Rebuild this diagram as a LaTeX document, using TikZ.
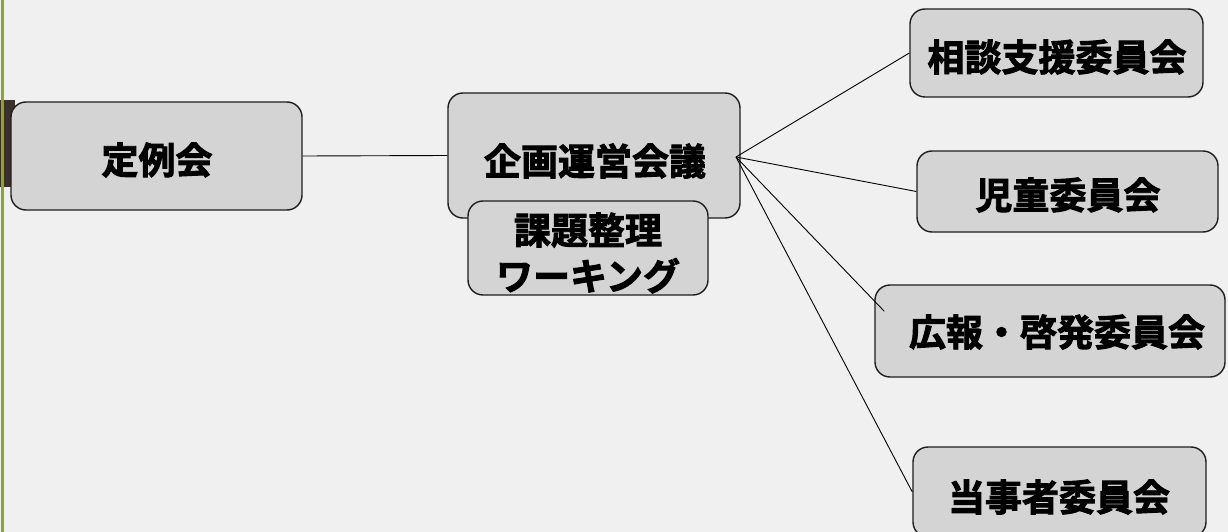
\documentclass[tikz,border=0pt]{standalone}
\usepackage{fontspec}
\newfontfamily\jpfont{Noto Sans CJK JP}[BoldFont={Noto Sans CJK JP Bold}, BoldFeatures={FakeBold=2.5}]
\usetikzlibrary{calc}
\definecolor{bgc}{HTML}{F0F0F0}
\definecolor{boxc}{HTML}{D4D4D4}
\definecolor{edgec}{HTML}{1E1E1E}
\definecolor{greenc}{HTML}{8AA62E}
\definecolor{brownc}{HTML}{3B3128}
\tikzset{
  box/.style={draw=edgec, line width=1.4pt, fill=boxc, rounded corners=15pt, inner sep=0pt},
  lbl/.style={font=\jpfont\bfseries\fontsize{37}{46}\selectfont, text=black, inner sep=0pt, align=center},
  link/.style={draw=black, line width=0.9pt}
}
\begin{document}
\begin{tikzpicture}[x=1pt,y=-1pt]
\useasboundingbox (0,0) rectangle (1228,532);
\clip (0,0) rectangle (1228,532);
\fill[bgc] (0,0) rectangle (1228,532);
\fill[brownc] (0,100) rectangle (15,187);
\fill[greenc] (1,0) rectangle (3.5,532);
% boxes
\node[box, minimum width=291pt, minimum height=108pt] (teirei) at (156.5,156) {};
\node[box, minimum width=292pt, minimum height=125pt] (kikaku) at (594,155.5) {};
\node[box, minimum width=240pt, minimum height=94pt] (kadai) at (588,248) {};
\node[box, minimum width=293pt, minimum height=88pt] (soudan) at (1056.5,53) {};
\node[box, minimum width=301pt, minimum height=81pt] (jidou) at (1067.5,191.5) {};
\node[box, minimum width=350pt, minimum height=92pt] (kouhou) at (1050,331) {};
\node[box, minimum width=293pt, minimum height=90pt] (tou) at (1059.5,492) {};
% labels
\node[lbl] (tteirei) at (157,160) {定例会};
\node[lbl] (tkikaku) at (595,161) {企画運営会議};
\node[lbl] (tkadai) at (588,253) {課題整理\\ワーキング};
\node[lbl] (tsoudan) at (1057,57) {相談支援委員会};
\node[lbl] (tjidou) at (1068,195) {児童委員会};
\node[lbl] (tkouhou) at (1057,332) {広報・啓発委員会};
\node[lbl] (ttou) at (1059,497) {当事者委員会};
% connectors
\coordinate (hub) at (736,157);
\coordinate (kend) at ($(kouhou.north west)+(10,27)$);
\draw[link] (teirei.east) -- (kikaku.west);
\draw[link] (hub) -- (soudan.west);
\draw[link] (hub) -- (jidou.west);
\draw[link] (hub) -- (kend);
\draw[link] (hub) -- (tou.west);
\end{tikzpicture}
\end{document}
